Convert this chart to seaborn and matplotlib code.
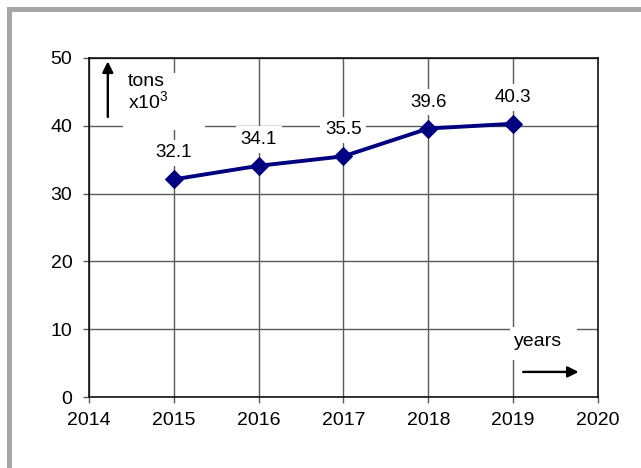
import matplotlib.pyplot as plt
from matplotlib.patches import Rectangle
import pandas as pd
import seaborn as sns

# data
years = [2015, 2016, 2017, 2018, 2019]
tons = [32.1, 34.1, 35.5, 39.6, 40.3]
x_ticks = [2014, 2015, 2016, 2017, 2018, 2019, 2020]
y_ticks = [0, 10, 20, 30, 40, 50]

sns.set_theme(style="white")
plt.rcParams["font.family"] = ["Liberation Sans", "DejaVu Sans"]
plt.rcParams["text.color"] = "black"
plt.rcParams["mathtext.fontset"] = "custom"
plt.rcParams["mathtext.rm"] = "Liberation Sans"
plt.rcParams["mathtext.it"] = "Liberation Sans"

df = pd.DataFrame({"year": years, "tons": tons})

fig = plt.figure(figsize=(6.41, 4.68), dpi=100)
ax = fig.add_axes([0.1388, 0.1517, 0.7941, 0.7244])

# gray frame (top and left)
fig.add_artist(Rectangle((7 / 641, 0), 5 / 641, (468 - 7) / 468,
                         transform=fig.transFigure, facecolor="#a6a6a6",
                         edgecolor="none"))
fig.add_artist(Rectangle((7 / 641, (468 - 12) / 468), 1 - 7 / 641, 5 / 468,
                         transform=fig.transFigure, facecolor="#a6a6a6",
                         edgecolor="none"))

sns.lineplot(data=df, x="year", y="tons", color="#000080", linewidth=2.8,
             marker="D", markersize=9, markeredgecolor="#000080", ax=ax,
             zorder=3)

ax.set_xlim(x_ticks[0], x_ticks[-1])
ax.set_ylim(y_ticks[0], y_ticks[-1])
ax.set_xticks(x_ticks)
ax.set_yticks(y_ticks)
ax.set_xlabel("")
ax.set_ylabel("")
ax.set_axisbelow(True)
ax.grid(True, color="#5a5a5a", linewidth=1.0)
ax.tick_params(axis="both", direction="out", length=4, width=1.0,
               color="#5a5a5a", labelsize=14, labelcolor="black")
ax.tick_params(axis="x", pad=7, bottom=True)
ax.tick_params(axis="y", pad=8, left=True)
for sp in ax.spines.values():
    sp.set_color("black")
    sp.set_linewidth(1.1)

# white boxes behind the annotations
ax.add_patch(Rectangle((0.067, 0.788), 0.161, 0.168, transform=ax.transAxes,
                       facecolor="white", edgecolor="none", zorder=1))
ax.add_patch(Rectangle((0.827, 0.109), 0.132, 0.097, transform=ax.transAxes,
                       facecolor="white", edgecolor="none", zorder=1))

# data labels
for yr, val in zip(years, tons):
    ax.annotate(f"{val:.1f}", xy=(yr, val), xytext=(0, 19),
                textcoords="offset points", ha="center", va="center",
                fontsize=13.5, color="black", zorder=4,
                bbox=dict(boxstyle="square,pad=0.25", facecolor="white",
                          edgecolor="none"))

# axis hints
ax.text(0.077, 0.955, "tons\nx10$^3$", transform=ax.transAxes, ha="left",
        va="top", fontsize=14, linespacing=1.0, color="black", zorder=4)
ax.annotate("", xy=(0.037, 0.99), xytext=(0.037, 0.826),
            xycoords="axes fraction", textcoords="axes fraction",
            arrowprops=dict(arrowstyle="-|>", color="black", lw=1.7,
                            mutation_scale=16, shrinkA=0, shrinkB=0))
ax.text(0.882, 0.165, "years", transform=ax.transAxes, ha="center",
        va="center", fontsize=14, color="black", zorder=4)
ax.annotate("", xy=(0.962, 0.074), xytext=(0.853, 0.074),
            xycoords="axes fraction", textcoords="axes fraction",
            arrowprops=dict(arrowstyle="-|>", color="black", lw=1.7,
                            mutation_scale=16, shrinkA=0, shrinkB=0))

fig.savefig("out.png", dpi=100, facecolor="white")
